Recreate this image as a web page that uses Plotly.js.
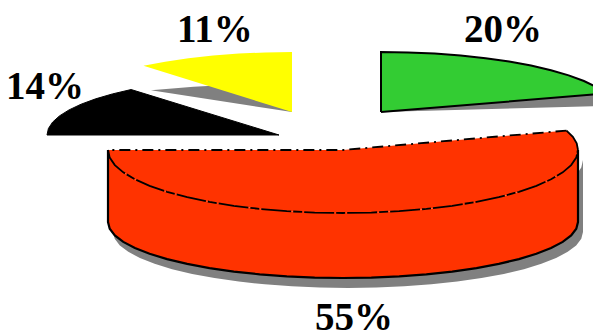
<!DOCTYPE html>
<html>
<head>
<meta charset="utf-8">
<script src="https://cdn.plot.ly/plotly-3.0.1.min.js"></script>
<style>html,body{margin:0;padding:0;background:#fff}#chart{width:593px;height:333px}</style>
</head>
<body>
<div id="chart"></div>
<script>
// Slice values, listed counterclockwise starting from the green slice.
const categories = ["Green", "Yellow", "Black", "Orange"];
const shares = [20, 11, 14, 55];
const colors = ["#33CC33", "#FFFF00", "#000000", "#FF3300"];

// Where each exploded slice sits in the drawing (pixel-scaled axes).
const apexX = [381, 292, 279, 343];
const apexY = [112, 112, 135, 150];
const radiusX = [237, 233, 232, 235];
const radiusY = [60, 60, 59, 63];
const labelX = [502.5, 214.5, 45, 353.5];
const labelY = [28, 28, 85, 316];

const TOP_ANGLE = 90;        // green ends and yellow starts at the top of the ellipse
const DEPTH = 72;            // wall height of the raised slice
const WALL_RADIUS_Y = 56;    // the wall's lower rim curves a bit flatter
const STEP = 7;              // rim facet size, in degrees
const SHADOW = "#808080";

// Turn the shares into start/end angles on the ellipse.
const sweep = shares.map(v => v * 3.6);
const ordered = [];
let running = TOP_ANGLE - sweep[0];
sweep.forEach(s => { ordered.push([running, running + s]); running += s; });

function rim(cx, cy, rx, ry, from, to) {
  const n = Math.max(2, Math.ceil(Math.abs(to - from) / STEP));
  const xs = [], ys = [];
  for (let i = 0; i <= n; i++) {
    const a = (from + (to - from) * i / n) * Math.PI / 180;
    xs.push(cx + rx * Math.cos(a));
    ys.push(cy - ry * Math.sin(a));
  }
  return {x: xs, y: ys};
}

function poly(x, y, fill, lineColor, width, dash, name) {
  const t = {
    x, y, type: "scatter", mode: "lines", name, hoverinfo: "skip",
    line: {color: lineColor || "rgba(0,0,0,0)", width: width || 0, dash: dash || "solid"}
  };
  if (fill) { t.fill = "toself"; t.fillcolor = fill; }
  return t;
}

function wedge(i, rx, ry, from, to) {
  const r = rim(apexX[i], apexY[i], rx, ry, from, to);
  return {x: [apexX[i], ...r.x, apexX[i]], y: [apexY[i], ...r.y, apexY[i]]};
}

const traces = [];

// Green slice with the sliver of shadow beneath its straight edge.
{
  const s = wedge(0, radiusX[0], radiusY[0], ordered[0][0] - 12, ordered[0][0]);
  traces.push(poly(s.x, s.y, SHADOW, null, 0, null, "Green shadow"));
  const g = wedge(0, radiusX[0], radiusY[0], ordered[0][0], ordered[0][1]);
  traces.push(poly(g.x, g.y, colors[0], "#000000", 2, null, categories[0]));
}

// Yellow slice over a flattened copy of itself as its shadow.
{
  const s = wedge(1, radiusX[1] * 0.95, radiusY[1] * 0.47, ordered[1][0], ordered[1][1]);
  traces.push(poly(s.x, s.y, SHADOW, null, 0, null, "Yellow shadow"));
  const y = wedge(1, radiusX[1], radiusY[1], ordered[1][0], ordered[1][1]);
  traces.push(poly(y.x, y.y, colors[1], null, 0, null, categories[1]));
}

// Black slice.
{
  const b = wedge(2, radiusX[2], radiusY[2], ordered[2][0], ordered[2][1]);
  traces.push(poly(b.x, b.y, colors[2], "#000000", 1, null, categories[2]));
}

// Raised orange slice: drop shadow, wall, top face, then outlines.
{
  const i = 3;
  const cx = apexX[i], cy = apexY[i], rx = radiusX[i], ry = radiusY[i];
  const topArc = rim(cx, cy, rx, ry, 180, 360);
  const lowArc = rim(cx, cy + DEPTH, rx, WALL_RADIUS_Y, 180, 360);
  const wallX = [...lowArc.x, ...topArc.x.slice().reverse()];
  const wallY = [...lowArc.y, ...topArc.y.slice().reverse()];
  wallX.push(wallX[0]); wallY.push(wallY[0]);

  traces.push(poly(wallX.map(v => v + 5), wallY.map(v => v + 10), SHADOW, null, 0, null, "Orange shadow"));
  traces.push(poly(wallX, wallY, colors[i], null, 0, null, "Orange wall"));

  const top = wedge(i, rx, ry, ordered[i][0], ordered[i][1]);
  traces.push(poly(top.x, top.y, colors[i], null, 0, null, categories[i]));

  // Wall outline in solid black, top face rim and radii in a broken line.
  traces.push(poly(
    [topArc.x[0], ...lowArc.x, topArc.x[topArc.x.length - 1]],
    [topArc.y[0], ...lowArc.y, topArc.y[topArc.y.length - 1]],
    null, "#000000", 2.2, null, "Orange wall outline"));
  traces.push(poly(topArc.x, topArc.y, null, "#000000", 1.8, "30px,2px,9px,2px", "Orange front rim"));
  const back = rim(cx, cy, rx, ry, 360, ordered[i][1]);
  traces.push(poly(back.x, back.y, null, "#000000", 1.8, null, "Orange right rim"));
  traces.push(poly(
    [back.x[back.x.length - 1], cx, topArc.x[0]],
    [back.y[back.y.length - 1], cy, topArc.y[0]],
    null, "#000000", 1.8, "11px,5px,2px,5px", "Orange back edge"));
}

const annotations = shares.map((v, i) => ({
  x: labelX[i], y: labelY[i], xref: "x", yref: "y",
  text: "<b>" + v + "%</b>", showarrow: false,
  xanchor: "center", yanchor: "middle",
  font: {family: "Liberation Serif, Times New Roman, serif", size: 39, color: "#000000"}
}));

const hiddenAxis = {visible: false, fixedrange: true, zeroline: false, showgrid: false};

Plotly.newPlot("chart", traces, {
  width: 593, height: 333,
  margin: {l: 0, r: 0, t: 0, b: 0},
  paper_bgcolor: "#ffffff", plot_bgcolor: "#ffffff",
  showlegend: false,
  xaxis: Object.assign({range: [0, 593]}, hiddenAxis),
  yaxis: Object.assign({range: [333, 0]}, hiddenAxis),
  annotations
}, {displayModeBar: false, staticPlot: true});
</script>
</body>
</html>
